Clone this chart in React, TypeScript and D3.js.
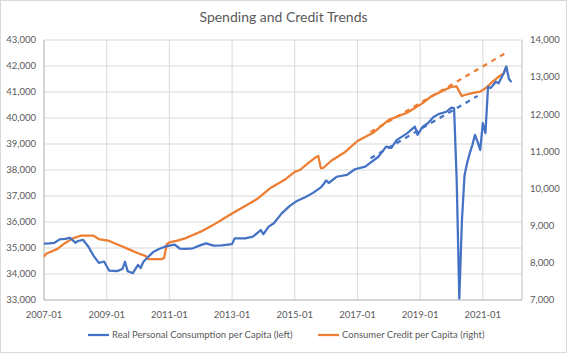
import React from 'react';
import * as d3 from 'd3';

// Spending vs. credit, monthly per capita values
const chartTitle = 'Spending and Credit Trends';
const consumptionLabel = 'Real Personal Consumption per Capita (left)';
const creditLabel = 'Consumer Credit per Capita (right)';

const xTickLabels = ['2007-01', '2009-01', '2011-01', '2013-01', '2015-01', '2017-01', '2019-01', '2021-01'];
const leftTicks = [33000, 34000, 35000, 36000, 37000, 38000, 39000, 40000, 41000, 42000, 43000];
const rightTicks = [7000, 8000, 9000, 10000, 11000, 12000, 13000, 14000];
const firstMonth = '2007-01';
const lastMonth = '2022-04';

type Pt = [string, number];

const consumption: Pt[] = [
  ['2007-01', 35170], ['2007-03', 35180], ['2007-05', 35200], ['2007-07', 35330], ['2007-09', 35350],
  ['2007-11', 35390], ['2008-01', 35200], ['2008-02', 35270], ['2008-04', 35310], ['2008-06', 35050],
  ['2008-08', 34700], ['2008-10', 34430], ['2008-12', 34480], ['2009-01', 34300], ['2009-02', 34130],
  ['2009-05', 34110], ['2009-07', 34190], ['2009-08', 34470], ['2009-09', 34110], ['2009-11', 34030],
  ['2010-01', 34350], ['2010-02', 34230], ['2010-03', 34460], ['2010-05', 34670], ['2010-07', 34860],
  ['2010-09', 34960], ['2010-11', 35040], ['2011-01', 35090], ['2011-03', 35130], ['2011-05', 34980],
  ['2011-07', 34970], ['2011-10', 34990], ['2012-01', 35110], ['2012-03', 35180], ['2012-06', 35090],
  ['2012-09', 35100], ['2013-01', 35150], ['2013-02', 35370], ['2013-06', 35370], ['2013-09', 35440],
  ['2013-12', 35690], ['2014-01', 35530], ['2014-03', 35820], ['2014-05', 35950], ['2014-08', 36330],
  ['2014-11', 36610], ['2015-02', 36820], ['2015-05', 36950], ['2015-08', 37120], ['2015-11', 37330],
  ['2015-12', 37450], ['2016-01', 37600], ['2016-02', 37500], ['2016-05', 37740], ['2016-09', 37810],
  ['2016-12', 38030], ['2017-04', 38130], ['2017-09', 38510], ['2017-12', 38900], ['2018-02', 38850],
  ['2018-04', 39150], ['2018-08', 39410], ['2018-11', 39670], ['2018-12', 39350], ['2019-02', 39670],
  ['2019-04', 39800], ['2019-06', 40030], ['2019-08', 40150], ['2019-11', 40240], ['2020-01', 40400],
  ['2020-02', 40370], ['2020-03', 37600], ['2020-04', 33050], ['2020-05', 36050], ['2020-06', 37800],
  ['2020-07', 38270], ['2020-08', 38650], ['2020-09', 38960], ['2020-10', 39350], ['2020-11', 39080],
  ['2020-12', 38770], ['2021-01', 39800], ['2021-02', 39420], ['2021-03', 41200], ['2021-04', 41150],
  ['2021-05', 41270], ['2021-06', 41400], ['2021-07', 41330], ['2021-08', 41530], ['2021-09', 41720],
  ['2021-10', 41980], ['2021-11', 41500], ['2021-12', 41380],
];

const credit: Pt[] = [
  ['2007-01', 8170], ['2007-02', 8250], ['2007-06', 8370], ['2007-09', 8530], ['2007-12', 8660],
  ['2008-03', 8730], ['2008-08', 8730], ['2008-10', 8640], ['2009-02', 8590], ['2009-04', 8530],
  ['2009-07', 8440], ['2009-10', 8350], ['2010-01', 8260], ['2010-04', 8180], ['2010-05', 8100],
  ['2010-10', 8100], ['2010-11', 8130], ['2010-12', 8500], ['2011-01', 8550], ['2011-04', 8600],
  ['2011-07', 8660], ['2011-10', 8750], ['2012-01', 8840], ['2012-04', 8950], ['2012-07', 9070],
  ['2012-10', 9200], ['2013-01', 9330], ['2013-05', 9490], ['2013-08', 9610], ['2013-11', 9740],
  ['2014-04', 10030], ['2014-09', 10230], ['2015-01', 10450], ['2015-03', 10500], ['2015-06', 10680],
  ['2015-09', 10840], ['2015-10', 10880], ['2015-11', 10550], ['2015-12', 10560], ['2016-03', 10750],
  ['2016-08', 10970], ['2017-01', 11280], ['2017-07', 11500], ['2018-01', 11850], ['2018-08', 12040],
  ['2019-02', 12300], ['2019-05', 12470], ['2019-09', 12610], ['2020-01', 12740], ['2020-03', 12750],
  ['2020-04', 12610], ['2020-05', 12490], ['2020-06', 12520], ['2020-09', 12570], ['2020-12', 12610],
  ['2021-02', 12700], ['2021-04', 12830], ['2021-07', 13010], ['2021-09', 13100], ['2021-10', 13290],
];

// dashed trend lines
const consumptionTrend: Pt[] = [['2017-06', 38450], ['2020-11', 40850]];
const creditTrend: Pt[] = [['2017-06', 11520], ['2021-10', 13660]];

const W = 567;
const H = 353;
const plot = { left: 44, right: 522, top: 40, bottom: 300 };
const blue = '#4472c4';
const orange = '#ed7d31';
const textColor = '#595959';
const font = 'Lato, "Open Sans", sans-serif';

const monthIndex = (s: string) => {
  const [y, m] = s.split('-').map(Number);
  return (y - 2007) * 12 + (m - 1);
};

export default function App() {
  const x = d3.scaleLinear()
    .domain([monthIndex(firstMonth), monthIndex(lastMonth)])
    .range([plot.left, plot.right]);
  const yLeft = d3.scaleLinear().domain([33000, 43000]).range([plot.bottom, plot.top]);
  const yRight = d3.scaleLinear().domain([7000, 14000]).range([plot.bottom, plot.top]);

  const leftLine = d3.line<Pt>().x(d => x(monthIndex(d[0]))).y(d => yLeft(d[1]));
  const rightLine = d3.line<Pt>().x(d => x(monthIndex(d[0]))).y(d => yRight(d[1]));
  const fmt = d3.format(',');

  return (
    <svg width={W} height={H} style={{ position: 'absolute', left: 0, top: 0 }} fontFamily={font}>
      <rect x={0.5} y={0.5} width={W - 1} height={H - 1} fill="#fff" stroke="#d9d9d9" />
      <text x={W / 2} y={22} textAnchor="middle" fontSize={14} fill={textColor}>{chartTitle}</text>

      {/* gridlines */}
      {leftTicks.map(t => (
        <line key={'h' + t} x1={plot.left} x2={plot.right} y1={yLeft(t)} y2={yLeft(t)} stroke="#d9d9d9" strokeWidth={1} />
      ))}
      {xTickLabels.map(l => (
        <line key={'v' + l} x1={x(monthIndex(l))} x2={x(monthIndex(l))} y1={plot.top} y2={plot.bottom} stroke="#d9d9d9" strokeWidth={1} />
      ))}
      <line x1={plot.left} x2={plot.left} y1={plot.top} y2={plot.bottom} stroke="#bfbfbf" />
      <line x1={plot.right} x2={plot.right} y1={plot.top} y2={plot.bottom} stroke="#bfbfbf" />
      <line x1={plot.left} x2={plot.right} y1={plot.bottom} y2={plot.bottom} stroke="#bfbfbf" />

      {/* axis labels */}
      {leftTicks.map(t => (
        <text key={'lt' + t} x={36} y={yLeft(t)} dy="0.35em" textAnchor="end" fontSize={9.5} fill={textColor}>{fmt(t)}</text>
      ))}
      {rightTicks.map(t => (
        <text key={'rt' + t} x={530} y={yRight(t)} dy="0.35em" textAnchor="start" fontSize={9.5} fill={textColor}>{fmt(t)}</text>
      ))}
      {xTickLabels.map(l => (
        <text key={'xt' + l} x={x(monthIndex(l))} y={318} textAnchor="middle" fontSize={9.5} fill={textColor}>{l}</text>
      ))}

      {/* series */}
      <path d={leftLine(consumptionTrend)!} fill="none" stroke={blue} strokeWidth={2.25} strokeDasharray="5,5" />
      <path d={rightLine(creditTrend)!} fill="none" stroke={orange} strokeWidth={2.25} strokeDasharray="5,5" />
      <path d={rightLine(credit)!} fill="none" stroke={orange} strokeWidth={2.25} strokeLinejoin="round" />
      <path d={leftLine(consumption)!} fill="none" stroke={blue} strokeWidth={2.25} strokeLinejoin="round" />

      {/* legend */}
      <line x1={88} x2={109} y1={335} y2={335} stroke={blue} strokeWidth={2.25} />
      <text x={112} y={335} dy="0.35em" fontSize={9.5} fill={textColor}>{consumptionLabel}</text>
      <line x1={318} x2={339} y1={335} y2={335} stroke={orange} strokeWidth={2.25} />
      <text x={342} y={335} dy="0.35em" fontSize={9.5} fill={textColor}>{creditLabel}</text>
    </svg>
  );
}
